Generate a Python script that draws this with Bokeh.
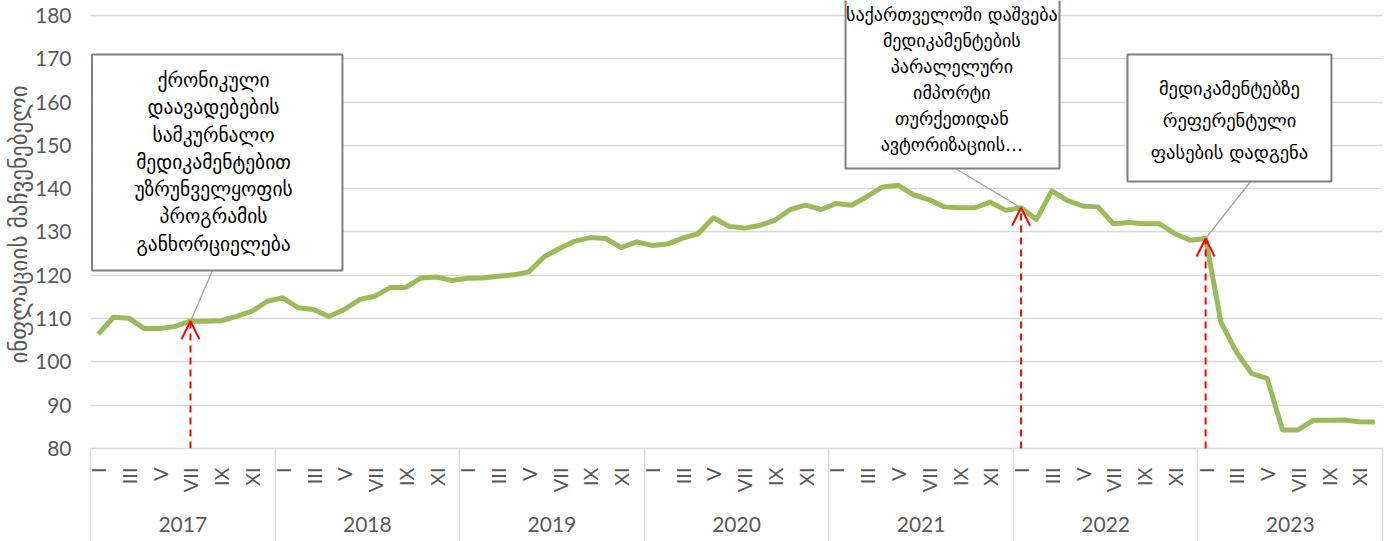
import numpy as np
from bokeh.plotting import figure
from bokeh.models import Range1d, FixedTicker, LinearAxis, Arrow, OpenHead
from bokeh.core.properties import value
from bokeh.embed import file_html
from bokeh.resources import INLINE

# ---------------- data ----------------
years = ["2017", "2018", "2019", "2020", "2021", "2022", "2023"]
month_labels = ["I", "II", "III", "IV", "V", "VI", "VII", "VIII", "IX", "X", "XI", "XII"]

idx_2017 = [106.4, 110.3, 110.1, 107.7, 107.7, 108.2, 109.4, 109.4, 109.5, 110.5, 111.7, 114.0]
idx_2018 = [114.8, 112.5, 112.1, 110.5, 112.1, 114.4, 115.2, 117.2, 117.2, 119.4, 119.6, 118.8]
idx_2019 = [119.3, 119.4, 119.8, 120.1, 120.8, 124.3, 126.2, 127.9, 128.7, 128.5, 126.4, 127.7]
idx_2020 = [126.9, 127.2, 128.6, 129.6, 133.3, 131.3, 130.9, 131.5, 132.7, 135.2, 136.2, 135.2]
idx_2021 = [136.6, 136.2, 138.2, 140.4, 140.8, 138.6, 137.5, 135.8, 135.6, 135.6, 136.9, 135.0]
idx_2022 = [135.6, 132.9, 139.5, 137.3, 136.0, 135.8, 131.9, 132.2, 131.9, 131.9, 129.6, 128.1]
idx_2023 = [128.5, 109.1, 102.3, 97.3, 96.2, 84.3, 84.3, 86.5, 86.5, 86.6, 86.2, 86.1]

y_ticks = [80, 90, 100, 110, 120, 130, 140, 150, 160, 170, 180]
y_title = "ინფლაციის მაჩვენებელი"

# annotated events: month index (0 = Jan 2017) and text lines
ann_month = [6, 60, 72]
ann_text = [
    ["ქრონიკული", "დაავადებების", "სამკურნალო", "მედიკამენტებით",
     "უზრუნველყოფის", "პროგრამის", "განხორციელება"],
    ["საქართველოში დაშვება", "მედიკამენტების", "პარალელური", "იმპორტი",
     "თურქეთიდან", "ავტორიზაციის…"],
    ["მედიკამენტებზე", "რეფერენტული", "ფასების დადგენა"],
]

values = idx_2017 + idx_2018 + idx_2019 + idx_2020 + idx_2021 + idx_2022 + idx_2023
xs = list(range(len(values)))
n = len(values)

# ---------------- layout / style (annotation boxes in axis units) ----------------
box_layout = [
    dict(l=-0.4, r=15.88, t=170.99, b=121.11, tx=7.5, ty=164.99, step=6.30, fs="19.5px", lx=7.43, ly=121.11),
    dict(l=48.59, r=62.5, t=195.0, b=144.67, tx=55.5, ty=180.3, step=6.02, fs="18px", lx=55.74, ly=144.67),
    dict(l=66.92, r=80.18, t=170.99, b=141.66, tx=73.55, ty=163.14, step=7.39, fs="18.5px", lx=74.92, ly=141.66),
]

GREEN = "#9BBB59"
GRID = "#D9D9D9"
TICK = "#595959"
BOTTOM = 93  # px below plot area for category labels

p = figure(width=1396, height=541, output_backend="svg", toolbar_location=None,
           x_range=Range1d(-0.5, n - 0.5), y_range=Range1d(80, 183.46),
           min_border_left=90, min_border_right=14, min_border_top=0, min_border_bottom=BOTTOM)
p.outline_line_color = None
p.background_fill_color = "white"
p.border_fill_color = "white"

# y axis
ya = p.yaxis[0]
ya.ticker = FixedTicker(ticks=y_ticks)
ya.axis_line_color = None
ya.major_tick_line_color = None
ya.minor_tick_line_color = None
ya.major_tick_out = 0
ya.minor_tick_out = 0
ya.major_label_text_font = "Lato"
ya.major_label_text_font_size = "21px"
ya.major_label_text_color = TICK
ya.major_label_standoff = 19
ya.axis_label = y_title
ya.axis_label_text_font = "DejaVu Sans"
ya.axis_label_text_font_style = "normal"
ya.axis_label_text_font_size = "23px"
ya.axis_label_text_color = TICK
ya.axis_label_standoff = 0

p.ygrid.ticker = FixedTicker(ticks=y_ticks)
p.ygrid.grid_line_color = GRID
p.ygrid.grid_line_width = 1.5
p.xgrid.visible = False

# month axis (minor ticks = year separators reaching the bottom)
month_ticks = [i for i in xs if i % 2 == 0]
sep_ticks = [k * 12 - 0.5 for k in range(len(years) + 1)]
xa = p.xaxis[0]
xa.ticker = FixedTicker(ticks=month_ticks, minor_ticks=sep_ticks)
xa.major_label_overrides = {i: month_labels[i % 12] for i in month_ticks}
xa.major_label_orientation = np.pi / 2
xa.major_label_text_font = "Lato"
xa.major_label_text_font_size = "20px"
xa.major_label_text_color = TICK
xa.major_tick_line_color = None
xa.major_tick_out = 0
xa.major_tick_in = 0
xa.minor_tick_line_color = GRID
xa.minor_tick_line_width = 1.5
xa.minor_tick_in = 0
xa.minor_tick_out = BOTTOM
xa.major_label_standoff = 19 - BOTTOM
xa.axis_line_color = GRID
xa.axis_line_width = 1.5

# year axis
p.extra_x_ranges = {"yr": Range1d(0, 2 * len(years))}
year_ticks = [2 * k + 1 for k in range(len(years))]
yr_axis = LinearAxis(x_range_name="yr", ticker=FixedTicker(ticks=year_ticks))
yr_axis.major_label_overrides = {t: y for t, y in zip(year_ticks, years)}
yr_axis.axis_line_color = None
yr_axis.major_tick_line_color = None
yr_axis.minor_tick_line_color = None
yr_axis.major_tick_out = 0
yr_axis.minor_tick_out = 0
yr_axis.major_label_text_font = "Lato"
yr_axis.major_label_text_font_size = "21px"
yr_axis.major_label_text_color = TICK
yr_axis.major_label_standoff = 21
p.add_layout(yr_axis, "below")

# main series
p.line(xs, values, line_color=GREEN, line_width=5, line_join="round")

# leader lines
ann_val = [values[m] for m in ann_month]
p.segment(x0=[b["lx"] for b in box_layout], y0=[b["ly"] for b in box_layout],
          x1=ann_month, y1=ann_val, line_color="#A6A6A6", line_width=1.3)

# boxes
p.quad(left=[b["l"] for b in box_layout], right=[b["r"] for b in box_layout],
       top=[b["t"] for b in box_layout], bottom=[b["b"] for b in box_layout],
       fill_color="white", line_color="#7F7F7F", line_width=2)

# box texts
for b, lines in zip(box_layout, ann_text):
    p.text(x=[b["tx"]] * len(lines), y=[b["ty"] - k * b["step"] for k in range(len(lines))],
           text=lines, text_font=value("DejaVu Sans"), text_font_size=b["fs"],
           text_align="center", text_baseline="middle", text_color="black")

# red dashed arrows
for m, v in zip(ann_month, ann_val):
    p.add_layout(Arrow(end=OpenHead(size=18, line_color="red", line_width=2),
                       x_start=m, y_start=80, x_end=m, y_end=v,
                       line_color="red", line_width=2, line_dash="7 5"))

open("out.html", "w").write(file_html(p, INLINE))
